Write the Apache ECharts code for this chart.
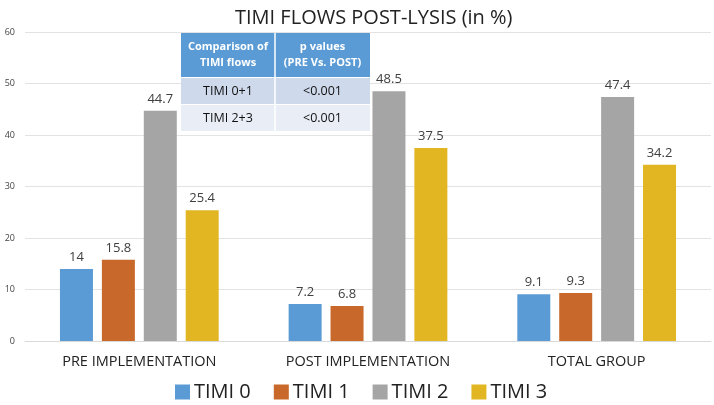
<!DOCTYPE html>
<html><head><meta charset="utf-8">
<script src="https://cdn.jsdelivr.net/npm/echarts@6/dist/echarts.min.js"></script>
<style>html,body{margin:0;padding:0;background:#fff}#c{width:714px;height:405px}</style>
</head><body><div id="c"></div>
<script>
const categories = ['PRE IMPLEMENTATION', 'POST IMPLEMENTATION', 'TOTAL GROUP'];
const seriesNames = ['TIMI 0', 'TIMI 1', 'TIMI 2', 'TIMI 3'];
const timi0 = [14, 7.2, 9.1];
const timi1 = [15.8, 6.8, 9.3];
const timi2 = [44.7, 48.5, 47.4];
const timi3 = [25.4, 37.5, 34.2];
const yTicks = [0, 10, 20, 30, 40, 50, 60];
const tableHeader = ['Comparison of\nTIMI flows', 'p values\n(PRE Vs. POST)'];
const tableRows = [['TIMI 0+1', '<0.001'], ['TIMI 2+3', '<0.001']];

const colors = ['#5b9bd5', '#c8682a', '#a5a5a5', '#e2b623'];
const font = 'Open Sans, Liberation Sans, sans-serif';
const chart = echarts.init(document.getElementById('c'));
const values = [timi0, timi1, timi2, timi3];

const tx = 181, ty = 33, c1 = 94, c2 = 95, hh = 44, rh = 27;
const graphics = [];
graphics.push({type:'rect', shape:{x:tx, y:ty, width:c1+c2, height:hh}, style:{fill:'#5b9bd5'}, z:100});
graphics.push({type:'line', shape:{x1:tx+c1, y1:ty, x2:tx+c1, y2:ty+hh}, style:{stroke:'#ffffff', lineWidth:1.5}, z:101});
graphics.push({type:'text', x:tx+c1/2, y:ty+hh/2, style:{text:tableHeader[0], fill:'#fff', font:'bold 11px '+font, align:'center', verticalAlign:'middle', lineHeight:16}, z:102});
graphics.push({type:'text', x:tx+c1+c2/2, y:ty+hh/2, style:{text:tableHeader[1], fill:'#fff', font:'bold 11px '+font, align:'center', verticalAlign:'middle', lineHeight:16}, z:102});
tableRows.forEach((r, i) => {
  const y = ty + hh + 1 + i * rh;
  graphics.push({type:'rect', shape:{x:tx, y:y, width:c1+c2, height:rh-1}, style:{fill: i===0 ? '#cfd9ec' : '#e8edf6'}, z:100});
  graphics.push({type:'line', shape:{x1:tx+c1, y1:y, x2:tx+c1, y2:y+rh-1}, style:{stroke:'#ffffff', lineWidth:1.5}, z:101});
  graphics.push({type:'text', x:tx+c1/2, y:y+rh/2, style:{text:r[0], fill:'#111', font:'12.5px '+font, align:'center', verticalAlign:'middle'}, z:102});
  graphics.push({type:'text', x:tx+c1+c2/2, y:y+rh/2, style:{text:r[1], fill:'#111', font:'12.5px '+font, align:'center', verticalAlign:'middle'}, z:102});
});

chart.setOption({
  animation: false,
  title: {text: 'TIMI FLOWS POST-LYSIS (in %)', left: 230, top: 3,
    textStyle: {fontFamily: font, fontWeight: 'normal', fontSize: 20, color: '#222'}},
  legend: {data: seriesNames, top: 382, left: 175, padding: 0, itemWidth: 15, itemHeight: 15, itemGap: 23,
    icon: 'rect', textStyle: {fontFamily: font, fontSize: 20, color: '#222', padding: [0, 0, 0, -1]}},
  grid: {left: 25, right: 3, top: 32, bottom: 64},
  xAxis: {type: 'category', data: categories,
    axisLine: {lineStyle: {color: '#d9d9d9'}}, axisTick: {show: false},
    axisLabel: {fontFamily: font, fontSize: 14.5, color: '#222', margin: 13}},
  yAxis: {type: 'value', min: yTicks[0], max: yTicks[yTicks.length-1], interval: 10,
    axisLine: {show: false}, axisTick: {show: false},
    splitLine: {lineStyle: {color: '#e3e3e3'}},
    axisLabel: {fontFamily: font, fontSize: 9, color: '#444', margin: 10}},
  graphic: graphics,
  series: seriesNames.map((n, i) => ({
    name: n, type: 'bar', data: values[i], barWidth: 33, barGap: '27%',
    itemStyle: {color: colors[i]},
    label: {show: true, position: 'top', fontFamily: font, fontSize: 13, color: '#404040', distance: 5}
  }))
});
</script></body></html>
